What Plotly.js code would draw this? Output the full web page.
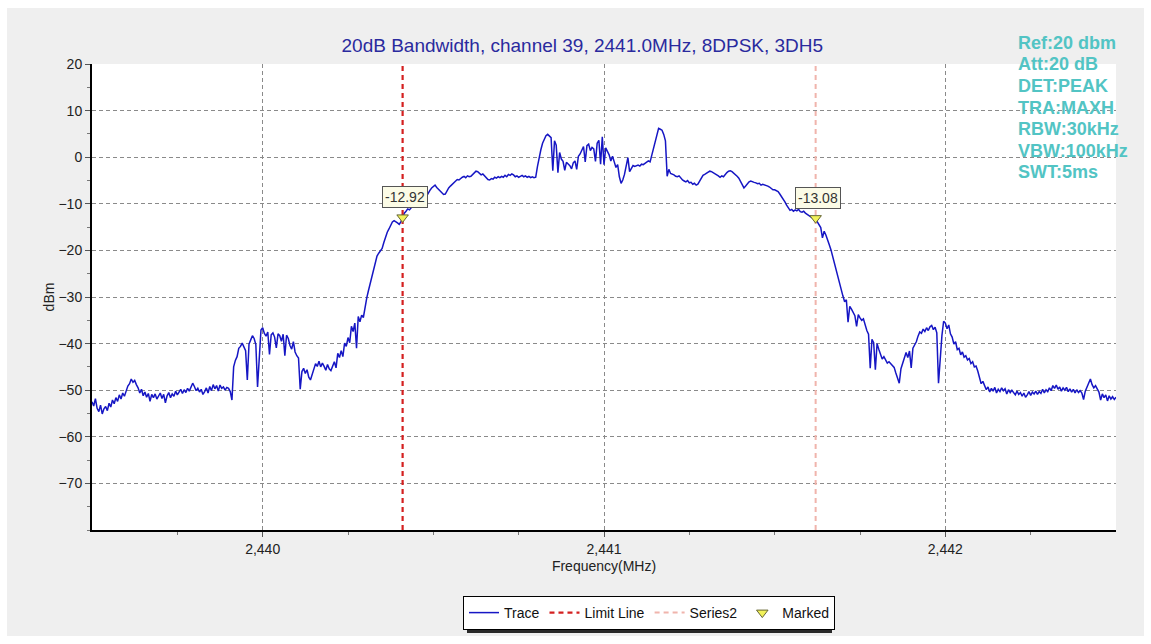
<!DOCTYPE html>
<html><head><meta charset="utf-8">
<script src="https://cdn.plot.ly/plotly-3.0.1.min.js"></script>
<style>html,body{margin:0;padding:0;background:#ffffff;} #chart{position:absolute;left:7px;top:8px;width:1137px;height:628px;}</style>
</head><body><div id="chart"></div>
<script>
// sampling grid of the analyser sweep (MHz)
const freqStart = 2439.5;
const freqStep = 0.005;
const traceDbm = [
-52.5,-53.4,-51.8,-53.9,-54.6,-53.2,-55.1,-54.0,-53.5,-54.4,-52.8,-53.6,-52.1,-52.9,-51.6,-52.4,-51.0,-51.9,-50.6,-51.3,
-50.2,-49.1,-48.6,-47.6,-48.3,-47.9,-48.8,-49.5,-50.6,-49.8,-51.2,-50.4,-51.5,-50.7,-52.4,-50.9,-51.6,-50.8,-51.9,-51.1,
-50.6,-51.8,-50.9,-52.7,-51.2,-50.5,-51.6,-50.8,-51.3,-50.2,-51.0,-50.4,-49.8,-50.7,-49.9,-50.5,-49.6,-50.2,-49.1,-48.5,
-49.2,-50.1,-49.6,-50.4,-49.8,-50.9,-50.3,-49.5,-50.6,-49.2,-50.1,-48.8,-49.7,-49.0,-50.2,-48.9,-49.6,-49.3,-50.0,-49.4,
-49.6,-50.3,-52.1,-45.0,-43.6,-42.8,-41.0,-40.6,-39.9,-40.8,-41.5,-47.8,-40.1,-39.2,-38.3,-38.9,-40.2,-49.3,-43.5,-37.1,
-36.6,-37.8,-38.4,-37.5,-42.3,-38.1,-37.7,-38.6,-40.9,-37.9,-38.3,-39.5,-38.0,-42.6,-38.2,-38.9,-40.4,-41.2,-39.6,-41.8,
-42.6,-43.1,-49.8,-46.0,-45.3,-46.4,-45.6,-47.2,-47.8,-46.5,-45.1,-44.3,-44.9,-43.8,-45.0,-44.2,-44.9,-45.7,-44.5,-45.4,
-45.8,-44.6,-43.9,-45.2,-42.1,-43.0,-41.5,-42.8,-39.9,-40.6,-38.7,-39.8,-36.3,-37.4,-35.6,-41.0,-34.2,-35.3,-33.9,-34.4,
-32.0,-30.2,-28.6,-27.0,-25.5,-24.0,-22.4,-21.2,-20.6,-20.1,-19.6,-18.3,-17.0,-16.1,-15.4,-14.6,-13.9,-13.6,-13.8,-14.1,
-14.4,-13.9,-12.9,-12.0,-11.6,-11.1,-11.3,-10.8,-10.4,-10.6,-9.9,-9.5,-9.7,-9.1,-8.8,-9.0,-8.3,-7.6,-7.1,-6.6,
-6.2,-6.0,-6.5,-6.9,-7.3,-7.8,-8.0,-7.9,-7.2,-6.6,-6.2,-5.9,-5.5,-5.2,-4.8,-4.9,-4.5,-4.3,-4.1,-4.4,
-4.0,-4.2,-4.1,-3.8,-3.3,-3.0,-3.1,-3.5,-3.8,-3.6,-4.0,-4.5,-4.8,-4.9,-4.6,-4.7,-4.3,-4.5,-4.2,-4.4,
-4.1,-4.3,-3.9,-4.2,-3.7,-3.9,-3.6,-3.8,-4.2,-4.0,-4.3,-4.1,-3.9,-4.2,-4.0,-4.3,-4.1,-4.4,-4.2,-4.4,
-4.3,-2.0,0.0,1.6,3.0,4.0,4.6,4.9,4.6,4.2,-2.9,3.5,2.6,-3.3,1.0,-0.4,-0.9,-2.8,-1.1,-1.5,
-1.8,-2.5,-1.2,-0.8,-2.6,0.2,0.7,1.5,2.3,-1.0,2.5,2.8,1.4,2.1,1.8,-0.9,3.0,3.6,-1.5,4.4,
-1.6,2.0,1.4,0.5,-0.8,0.2,-1.0,-2.2,-1.6,-4.2,-5.6,-4.9,-3.7,-1.5,-0.1,-3.1,-2.4,-1.8,-2.0,-1.9,
-1.7,-1.9,-1.5,-1.6,-1.3,-1.1,-0.8,-1.0,0.4,2.2,3.8,5.2,6.2,6.0,5.8,4.9,3.5,-4.1,-2.6,-3.5,
-3.6,-3.8,-4.1,-4.2,-4.0,-4.6,-4.9,-5.1,-5.3,-5.0,-5.5,-5.4,-5.8,-5.6,-6.0,-5.8,-5.1,-4.5,-3.9,-3.7,
-3.5,-3.2,-3.0,-3.1,-3.3,-3.5,-3.8,-4.0,-4.3,-4.0,-4.2,-3.6,-3.3,-3.0,-2.9,-3.1,-3.4,-3.8,-4.1,-4.5,
-5.2,-6.0,-6.6,-6.2,-5.6,-5.3,-5.1,-5.3,-5.4,-5.5,-5.7,-5.6,-6.0,-5.8,-5.9,-6.1,-6.2,-6.4,-6.7,-7.0,
-7.0,-7.2,-7.4,-7.9,-8.4,-9.0,-9.6,-10.3,-11.0,-11.4,-11.2,-11.6,-11.3,-11.5,-11.2,-11.7,-11.8,-11.6,-12.0,-12.3,
-12.6,-12.9,-13.0,-13.1,-13.1,-13.9,-14.6,-15.1,-17.3,-15.9,-16.7,-17.6,-18.8,-19.9,-21.4,-22.9,-24.3,-25.7,-27.2,-28.6,
-29.8,-31.0,-30.6,-35.4,-32.0,-32.6,-33.2,-34.0,-36.3,-33.8,-34.5,-35.0,-34.7,-36.0,-37.2,-38.0,-45.3,-39.1,-39.8,-45.6,
-40.0,-41.2,-42.4,-43.3,-42.8,-43.6,-44.2,-43.9,-44.3,-44.6,-45.1,-46.3,-47.5,-48.5,-45.4,-44.2,-42.8,-41.9,-43.0,-41.6,
-45.2,-41.0,-40.3,-39.6,-38.4,-37.5,-37.8,-36.9,-37.4,-36.6,-37.2,-36.4,-36.1,-37.0,-36.5,-37.7,-48.5,-42.0,-38.3,-35.2,
-35.6,-36.8,-36.0,-37.9,-38.6,-40.1,-39.6,-41.3,-41.0,-42.4,-41.8,-42.9,-42.6,-43.5,-43.2,-44.3,-43.9,-45.0,-44.8,-45.9,
-47.0,-48.6,-48.1,-49.2,-49.9,-49.3,-50.4,-49.6,-50.2,-49.4,-50.6,-49.8,-50.3,-49.5,-50.1,-49.7,-50.8,-49.9,-50.5,-50.0,
-50.4,-51.0,-50.2,-50.9,-50.5,-51.3,-50.6,-51.5,-51.0,-50.3,-51.1,-50.4,-50.8,-50.2,-50.9,-50.3,-50.7,-49.8,-50.6,-49.9,
-50.3,-49.5,-50.1,-49.0,-49.6,-48.9,-49.8,-49.3,-50.2,-49.5,-50.0,-49.4,-50.3,-49.7,-50.4,-49.8,-50.6,-49.9,-50.5,-50.1,
-50.6,-52.0,-50.2,-49.4,-48.6,-47.6,-48.8,-49.5,-49.0,-49.9,-50.4,-52.1,-50.8,-51.6,-51.0,-52.3,-51.2,-51.9,-51.4,-52.0,
-51.5
];
const limitFreq = 2440.41;
const series2Freq = 2441.62;
const markedFreq = [2440.41, 2441.62];
const markedDbm = [-12.92, -13.08];
const markedLabels = ['-12.92', '-13.08'];
const yRange = [-80, 20];
const xRange = [2439.5, 2442.5];
const yTickVals = [20, 10, 0, -10, -20, -30, -40, -50, -60, -70];
const xTickVals = [2440, 2441, 2442];
const xTickText = ['2,440', '2,441', '2,442'];
const infoLines = ['Ref:20 dbm', 'Att:20 dB', 'DET:PEAK', 'TRA:MAXH', 'RBW:30kHz', 'VBW:100kHz', 'SWT:5ms'];
const titleText = '20dB Bandwidth, channel 39, 2441.0MHz, 8DPSK, 3DH5';

const freq = traceDbm.map((_, i) => +(freqStart + i * freqStep).toFixed(3));
const FONT = 'Liberation Sans, Arial, sans-serif';

// helpers: convert page pixel positions to paper fractions (plot area 92..1116 x 64..530)
const px = v => (v - 92) / 1024;
const py = v => 1 - (v - 64) / 466;

const traces = [
  {x: freq, y: traceDbm, type: 'scatter', mode: 'lines', name: 'Trace',
   line: {color: '#1616c4', width: 1.5}},
  {x: [limitFreq, limitFreq], y: yRange, type: 'scatter', mode: 'lines', name: 'Limit Line',
   line: {color: '#d42020', width: 2.2, dash: '5px,4px'}},
  {x: [series2Freq, series2Freq], y: yRange, type: 'scatter', mode: 'lines', name: 'Series2',
   line: {color: '#f0b4ac', width: 2, dash: '5px,4px'}},
  {x: markedFreq, y: markedDbm, type: 'scatter', mode: 'markers', name: 'Marked',
   marker: {symbol: 'triangle-down', size: 10, color: '#f2f25a', line: {color: '#666633', width: 1}}}
];

const annotations = markedFreq.map((f, i) => ({
  x: f, y: markedDbm[i], xref: 'x', yref: 'y', text: markedLabels[i], showarrow: false,
  xshift: 2, yshift: 20, bgcolor: '#fbfbe6', bordercolor: '#555555', borderwidth: 1, borderpad: 2,
  font: {family: FONT, size: 14, color: '#333333'}
}));
infoLines.forEach((t, i) => annotations.push({
  xref: 'paper', yref: 'paper', x: px(1016), y: py(43 + i * 21.5),
  xanchor: 'left', yanchor: 'middle', text: t, showarrow: false,
  font: {family: FONT, size: 18, color: '#52c4c4', weight: 'bold'}
}));

const layout = {
  width: 1137, height: 628,
  paper_bgcolor: '#efefef', plot_bgcolor: '#ffffff',
  margin: {l: 85, r: 28, t: 56, b: 106},
  showlegend: true,
  title: {text: titleText, xref: 'container', x: 0.506, xanchor: 'center', yref: 'container', y: 1 - 37 / 628, yanchor: 'middle',
          font: {family: FONT, size: 19, color: '#2a2a9e'}},
  xaxis: {range: xRange, tickvals: xTickVals, ticktext: xTickText, showgrid: true, gridcolor: '#8a8a8a', griddash: '4px,3px', gridwidth: 1,
          zeroline: false, showline: true, linecolor: '#000000', linewidth: 2, ticks: 'outside', ticklen: 5, tickcolor: '#555555',
          minor: {tickvals: [2439.75, 2440.25, 2440.5, 2440.75, 2441.25, 2441.5, 2441.75, 2442.25], ticks: 'outside', ticklen: 3, tickcolor: '#777777', showgrid: false},
          tickfont: {family: FONT, size: 14, color: '#222222'},
          title: {text: 'Frequency(MHz)', standoff: 5, font: {family: FONT, size: 14, color: '#222222'}},
          automargin: false},
  yaxis: {range: yRange, tickvals: yTickVals, showgrid: true, gridcolor: '#8a8a8a', griddash: '4px,3px', gridwidth: 1,
          zeroline: false, showline: true, linecolor: '#000000', linewidth: 2, ticks: 'outside', ticklen: 5, tickcolor: '#555555',
          minor: {dtick: 5, ticks: 'outside', ticklen: 3, tickcolor: '#777777', showgrid: false},
          tickfont: {family: FONT, size: 14, color: '#222222'},
          title: {text: 'dBm', standoff: 1, font: {family: FONT, size: 14, color: '#222222'}},
          automargin: false},
  legend: {orientation: 'h', xref: 'container', yref: 'container', x: (463 - 7) / 1137, y: 1 - (596 - 8) / 628, xanchor: 'left', yanchor: 'top',
           bgcolor: '#ffffff', bordercolor: '#000000', borderwidth: 1, itemwidth: 30,
           font: {family: FONT, size: 14, color: '#111111'}},
  shapes: [
    // drop shadow under the legend box
    {type: 'rect', xref: 'paper', yref: 'paper', x0: px(467), x1: px(832), y0: py(633), y1: py(600),
     fillcolor: '#2a2a2a', line: {width: 0}, layer: 'above'}
  ],
  annotations: annotations
};

Plotly.newPlot('chart', traces, layout, {displayModeBar: false, staticPlot: true});
</script>
</body></html>
